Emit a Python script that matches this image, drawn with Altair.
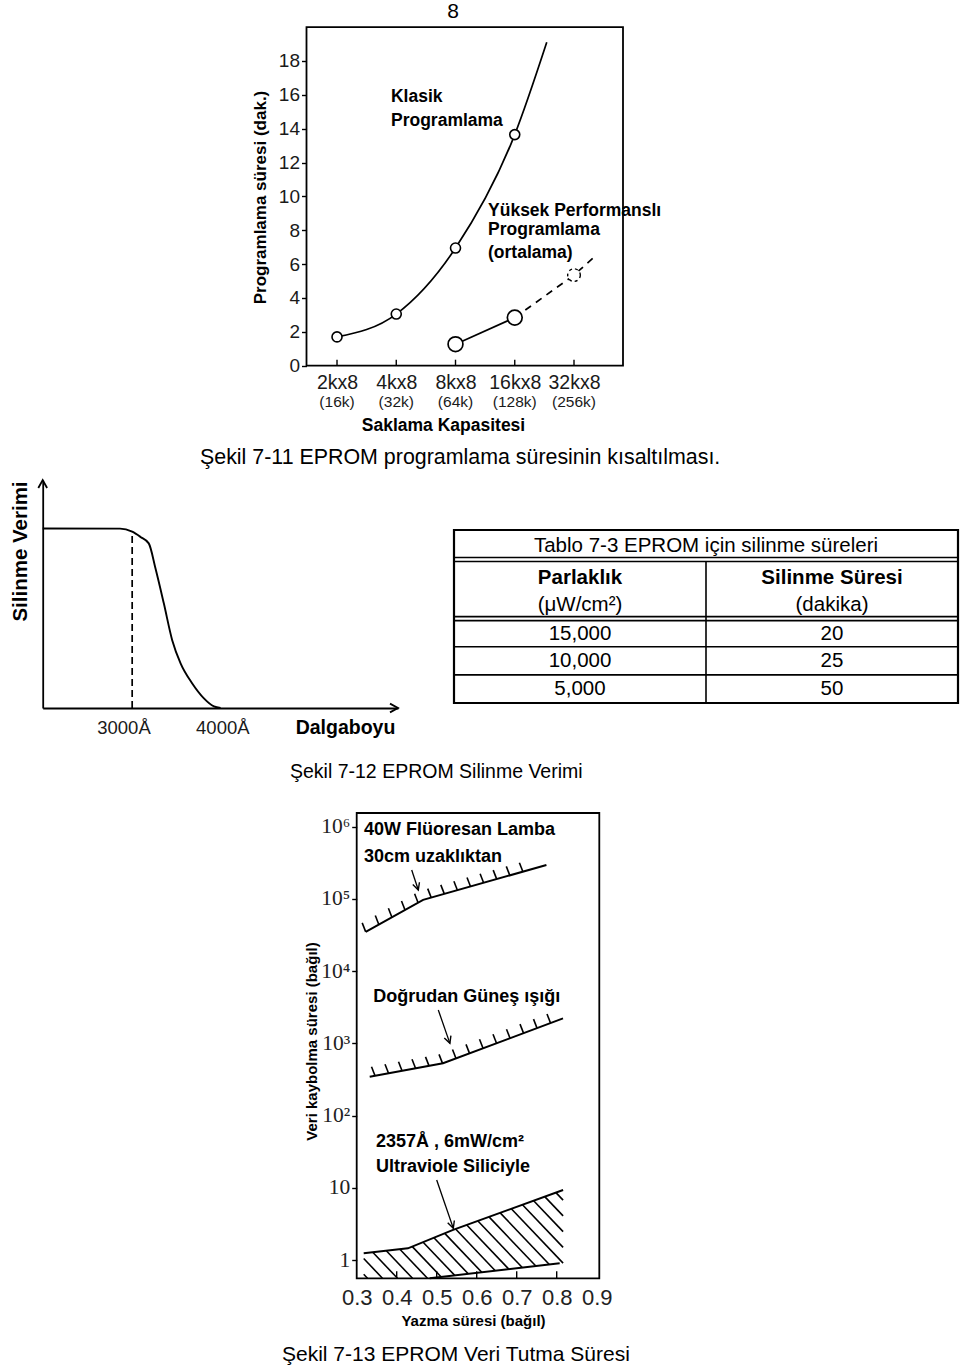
import math
import numpy as np
import pandas as pd
import altair as alt

W, H = 960, 1366
SANS = "Liberation Sans"
SERIF = "Liberation Serif"
INK = "#1a1a1a"

# ================= data : Şekil 7-11 =================
cap_pos = [0, 1, 2, 3, 4]
cap_main = ["2kx8", "4kx8", "8kx8", "16kx8", "32kx8"]
cap_sub = ["(16k)", "(32k)", "(64k)", "(128k)", "(256k)"]
prog_ticks = [0, 2, 4, 6, 8, 10, 12, 14, 16, 18]
klasik_x = [0, 1, 2, 3, 3.54]
klasik_y = [1.7, 3.05, 6.95, 13.65, 19.1]
klasik_marked = 4
yuksek_x = [2, 3]
yuksek_y = [1.27, 2.84]
yuksek_est_x = [3, 4, 4.32]
yuksek_est_y = [2.84, 5.35, 6.36]
f11_text = ["Klasik", "Programlama", "Yüksek Performanslı", "Programlama", "(ortalama)"]
f11_text_x = [0.911, 0.911, 2.549, 2.549, 2.549]
f11_text_y = [15.89, 14.47, 9.14, 8.01, 6.66]

# ================= data : Şekil 7-12 =================
wave = [1965, 2860, 3000, 3096, 3192, 3270, 3366, 3463, 3560, 3695, 3830, 3946, 4023]
eff = [1.0, 0.999, 0.982, 0.953, 0.917, 0.777, 0.583, 0.378, 0.249, 0.137, 0.054, 0.009, 0.0]
wave_ticks = [3000, 4000]
cutoff_wave = 3000
cutoff_eff = 0.982

# ================= data : Tablo 7-3 =================
table_title = "Tablo 7-3 EPROM için silinme süreleri"
head_bold = ["Parlaklık", "Silinme Süresi"]
head_unit = ["(μW/cm²)", "(dakika)"]
brightness = ["15,000", "10,000", "5,000"]
erase_min = ["20", "25", "50"]

# ================= data : Şekil 7-13 =================
write_ticks = [0.3, 0.4, 0.5, 0.6, 0.7, 0.8, 0.9]
inner_ticks = [0.4, 0.5, 0.6, 0.7, 0.8]
ret_ticks = [1, 10, 100, 1000, 10000, 100000, 1000000]
ret_labels = ["1", "10", "10²", "10³", "10⁴", "10⁵", "10⁶"]
fluor_x = [0.3225, 0.466, 0.7743]
fluor_y = [35000, 97000, 295000]
sun_x = [0.3325, 0.5158, 0.8158]
sun_y = [345, 530, 2220]
uv_top_x = [0.3175, 0.428, 0.541, 0.816]
uv_top_y = [1.24, 1.45, 2.61, 9.33]
uv_low_x = [0.4825, 0.8075]
uv_low_y = [0.558, 0.90]
arrow_x0 = [0.4375, 0.504, 0.5]
arrow_y0 = [252000, 2900, 12.8]
arrow_x1 = [0.454, 0.533, 0.5415]
arrow_y1 = [133000, 1000, 2.75]
f13_text = ["40W Flüoresan Lamba", "30cm uzaklıktan", "Doğrudan Güneş ışığı",
            "2357Å , 6mW/cm²", "Ultraviole Siliciyle"]
f13_text_x = [0.3183, 0.3183, 0.3415, 0.348, 0.348]
f13_text_y = [900000, 385000, 4435, 43.5, 19.6]

captions = ["Şekil 7-11 EPROM programlama süresinin kısaltılması.",
            "Şekil 7-12 EPROM Silinme Verimi",
            "Şekil 7-13 EPROM Veri Tutma Süresi"]
page_no = "8"


def qx(scale, field="x", axis=None):
    return alt.X(f"{field}:Q", scale=scale, axis=axis)


def qy(scale, field="y", axis=None):
    return alt.Y(f"{field}:Q", scale=scale, axis=axis)


units = []

# ======================= Figure 7-11 =======================
f11_xdom, f11_xrng = [-0.515, 4.827], [306.5, 623.0]
f11_ydom, f11_yrng = [0, 20], [365.7, 27.1]
X11 = alt.Scale(domain=f11_xdom, range=f11_xrng, nice=False, zero=False)
Y11 = alt.Scale(domain=f11_ydom, range=f11_yrng, nice=False, zero=False)

lab11 = "[" + ",".join(f"'{s}'" for s in cap_main) + "][datum.value]"
ax11x = alt.Axis(orient="bottom", offset=f11_yrng[0] - H, values=cap_pos, labelExpr=lab11,
                 domain=False, ticks=False, grid=False, labelFlush=False,
                 labelOverlap=False, labelFont=SANS, labelFontSize=19.5, labelColor=INK,
                 labelPadding=17, labelBaseline="middle",
                 title="Saklama Kapasitesi", titleFont=SANS, titleFontSize=17.5,
                 titleFontWeight="bold", titleColor="black", titleX=443, titleY=59.3,
                 titleAlign="center", titleBaseline="middle")
ax11y = alt.Axis(orient="left", offset=-f11_xrng[0], values=prog_ticks, domain=False,
                 ticks=True, tickSize=5, tickWidth=1.4, tickColor="black", grid=False,
                 labelFont=SANS, labelFontSize=19, labelColor=INK, labelPadding=2,
                 labelOverlap=False, labelFlush=False,
                 title="Programlama süresi (dak.)", titleFont=SANS, titleFontSize=17,
                 titleFontWeight="bold", titleColor="black", titleX=260 - f11_xrng[0],
                 titleY=197, titleAngle=270, titleAlign="center", titleBaseline="middle")

units.append(alt.Chart(pd.DataFrame({"x": [f11_xdom[0]], "x2": [f11_xdom[1]],
                                     "y": [f11_ydom[0]], "y2": [f11_ydom[1]]})).mark_rect(
    filled=False, color="black", strokeWidth=1.8).encode(
    x=qx(X11, axis=ax11x), x2="x2", y=qy(Y11, axis=ax11y), y2="y2"))

kl_df = pd.DataFrame({"x": klasik_x, "y": klasik_y})
yk_df = pd.DataFrame({"x": yuksek_x, "y": yuksek_y})
ye_df = pd.DataFrame({"x": yuksek_est_x, "y": yuksek_est_y})
units.append(alt.Chart(kl_df).mark_line(color="black", strokeWidth=1.7,
                                        interpolate="monotone").encode(x=qx(X11), y=qy(Y11)))
units.append(alt.Chart(yk_df).mark_line(color="black", strokeWidth=1.7).encode(
    x=qx(X11), y=qy(Y11)))
units.append(alt.Chart(ye_df).mark_line(color="black", strokeWidth=1.7, strokeDash=[7, 6]).encode(
    x=qx(X11), y=qy(Y11)))
units.append(alt.Chart(kl_df.iloc[:klasik_marked]).mark_point(
    shape="circle", filled=True, fill="white", stroke="black", strokeWidth=1.6,
    size=100, opacity=1).encode(x=qx(X11), y=qy(Y11)))
units.append(alt.Chart(yk_df).mark_point(shape="circle", filled=True, fill="white",
                                         stroke="black", strokeWidth=1.7, size=220,
                                         opacity=1).encode(x=qx(X11), y=qy(Y11)))
units.append(alt.Chart(ye_df.iloc[[1]]).mark_point(shape="circle", filled=True, fill="white",
                                                   stroke="black", strokeWidth=1.4,
                                                   strokeDash=[3, 3], size=160,
                                                   opacity=1).encode(x=qx(X11), y=qy(Y11)))
units.append(alt.Chart(pd.DataFrame({"x": cap_pos, "y": [0] * len(cap_pos)})).mark_point(
    shape="M0,0L0,-1", size=144, filled=False, color="black", strokeWidth=1.4,
    opacity=1).encode(x=qx(X11), y=qy(Y11)))
units.append(alt.Chart(pd.DataFrame({"x": cap_pos, "y": [0] * len(cap_pos), "t": cap_sub})).mark_text(
    font=SANS, fontSize=15.5, color=INK, baseline="middle", dy=36).encode(
    x=qx(X11), y=qy(Y11), text="t:N"))
units.append(alt.Chart(pd.DataFrame({"x": f11_text_x, "y": f11_text_y, "t": f11_text})).mark_text(
    font=SANS, fontSize=17.5, fontWeight="bold", color="black", align="left",
    baseline="middle").encode(x=qx(X11), y=qy(Y11), text="t:N"))

# ======================= Figure 7-12 =======================
f12_xdom, f12_xrng = [1965, 6075], [42.7, 398.0]
f12_ydom, f12_yrng = [0, 1.27], [708.0, 480.0]
X12 = alt.Scale(domain=f12_xdom, range=f12_xrng, nice=False, zero=False)
Y12 = alt.Scale(domain=f12_ydom, range=f12_yrng, nice=False, zero=False)

ax12x = alt.Axis(orient="bottom", offset=f12_yrng[0] - H, values=wave_ticks,
                 labelExpr="datum.value + 'Å'", domain=True, domainColor="black",
                 domainWidth=1.8, ticks=False, grid=False, labelFlush=False,
                 labelOverlap=False, labelFont=SANS, labelFontSize=18.5, labelColor=INK,
                 labelBaseline="middle", labelPadding=19,
                 labelOffset={"condition": {"test": "datum.value < 3500", "value": -8.7},
                              "value": 3.7},
                 title="Dalgaboyu", titleFont=SANS, titleFontSize=19.5, titleFontWeight="bold",
                 titleColor="black", titleX=345, titleY=19, titleAlign="center",
                 titleBaseline="middle")
ax12y = alt.Axis(orient="left", offset=-f12_xrng[0], domain=True, domainColor="black",
                 domainWidth=1.8, ticks=False, labels=False, grid=False,
                 title="Silinme Verimi", titleFont=SANS, titleFontSize=20.5,
                 titleFontWeight="bold", titleColor="black", titleX=20 - f12_xrng[0],
                 titleY=551, titleAngle=270, titleAlign="center", titleBaseline="middle")

units.append(alt.Chart(pd.DataFrame({"x": wave, "y": eff})).mark_line(
    color="black", strokeWidth=1.9, interpolate="monotone").encode(
    x=qx(X12, axis=ax12x), y=qy(Y12, axis=ax12y)))
units.append(alt.Chart(pd.DataFrame({"x": [cutoff_wave], "y": [0], "y2": [cutoff_eff]})).mark_rule(
    color="black", strokeWidth=1.7, strokeDash=[7, 4]).encode(x=qx(X12), y=qy(Y12), y2="y2"))
units.append(alt.Chart(pd.DataFrame({"x": [f12_xdom[1], f12_xdom[0]],
                                     "y": [f12_ydom[0], f12_ydom[1]],
                                     "a": [90, 0]})).mark_point(
    shape="M-0.55,1L0,0L0.55,1", size=256, filled=False, color="black", strokeWidth=1.8,
    opacity=1).encode(x=qx(X12), y=qy(Y12), angle=alt.Angle("a:Q", scale=None)))

# ======================= Tablo 7-3 =======================
row_h = [1.05, 2.1, 1.0, 1.0, 1.0]
bnd = [float(v) for v in np.cumsum([0] + row_h)]
TX = alt.Scale(domain=[0, 2], range=[454, 958], nice=False, zero=False)
TY = alt.Scale(domain=[0, bnd[-1]], range=[530, 703], nice=False, zero=False)
g = 2.0 / (173.0 / bnd[-1])
col_c = [0.5, 1.5]

units.append(alt.Chart(pd.DataFrame({"x": [0], "x2": [2], "y": [0], "y2": [bnd[-1]]})).mark_rect(
    filled=False, color="black", strokeWidth=2.2).encode(x=qx(TX), x2="x2", y=qy(TY), y2="y2"))
hy = [bnd[1] - g, bnd[1] + g, bnd[2] - g, bnd[2] + g, bnd[3], bnd[4]]
units.append(alt.Chart(pd.DataFrame({"x": [0] * len(hy), "x2": [2] * len(hy), "y": hy})).mark_rule(
    color="black", strokeWidth=1.6).encode(x=qx(TX), x2="x2", y=qy(TY)))
units.append(alt.Chart(pd.DataFrame({"x": [1], "y": [bnd[1] + g], "y2": [bnd[-1]]})).mark_rule(
    color="black", strokeWidth=1.6).encode(x=qx(TX), y=qy(TY), y2="y2"))
units.append(alt.Chart(pd.DataFrame({"x": [1], "y": [row_h[0] / 2], "t": [table_title]})).mark_text(
    font=SANS, fontSize=20.5, color="black", baseline="middle", dy=1).encode(
    x=qx(TX), y=qy(TY), text="t:N"))
units.append(alt.Chart(pd.DataFrame({"x": col_c, "y": [bnd[1] + 0.32 * row_h[1]] * 2,
                                     "t": head_bold})).mark_text(
    font=SANS, fontSize=20.5, fontWeight="bold", color="black", baseline="middle").encode(
    x=qx(TX), y=qy(TY), text="t:N"))
units.append(alt.Chart(pd.DataFrame({"x": col_c, "y": [bnd[1] + 0.77 * row_h[1]] * 2,
                                     "t": head_unit})).mark_text(
    font=SANS, fontSize=20.5, color="black", baseline="middle").encode(
    x=qx(TX), y=qy(TY), text="t:N"))
cells = []
for i in range(3):
    ymid = (bnd[2 + i] + bnd[3 + i]) / 2 + (g / 2 if i == 0 else 0)
    cells.append({"x": col_c[0], "y": ymid, "t": brightness[i]})
    cells.append({"x": col_c[1], "y": ymid, "t": erase_min[i]})
units.append(alt.Chart(pd.DataFrame(cells)).mark_text(
    font=SANS, fontSize=20.5, color="black", baseline="middle").encode(
    x=qx(TX), y=qy(TY), text="t:N"))

# ======================= Figure 7-13 =======================
f13_xdom, f13_xrng = [0.3, 0.9065], [356.7, 599.3]
f13_ydom, f13_yrng = [0.558, 1.55e6], [1278.3, 813.0]
X13 = alt.Scale(domain=f13_xdom, range=f13_xrng, nice=False, zero=False)
Y13 = alt.Scale(type="log", domain=f13_ydom, range=f13_yrng, nice=False)

PXX = (f13_xrng[1] - f13_xrng[0]) / (f13_xdom[1] - f13_xdom[0])
PXY = (f13_yrng[0] - f13_yrng[1]) / (math.log10(f13_ydom[1]) - math.log10(f13_ydom[0]))


def to_px(x, y):
    return (np.asarray(x, float) - f13_xdom[0]) * PXX, np.log10(np.asarray(y, float)) * PXY


def from_px(X, V):
    return np.asarray(X) / PXX + f13_xdom[0], 10 ** (np.asarray(V) / PXY)


def band_ticks(xs, ys, first, last, step_px, lean=3.5, rise=9.0):
    X, V = to_px(xs, ys)
    a = (first - f13_xdom[0]) * PXX
    b = (last - f13_xdom[0]) * PXX
    pos = np.arange(a, b + 0.1, step_px)
    v = np.interp(pos, X, V)
    xa, ya = from_px(pos, v)
    xb, yb = from_px(pos - lean, v + rise)
    return pd.DataFrame({"x": xa, "y": ya, "x2": xb, "y2": yb})


def hatch(tx, ty, lx, ly, step_px=15.0, k=1.05):
    Xt, Vt = to_px(tx, ty)
    Xl, Vl = to_px(lx, ly)
    vfloor = math.log10(f13_ydom[0]) * PXY
    Xs = np.linspace(Xt[0], Xt[-1], 3000)
    top = np.interp(Xs, Xt, Vt)
    low = np.maximum(np.interp(Xs, Xl, Vl), vfloor)
    c_lo = (low + k * Xs).min()
    c_hi = (top + k * Xs).max()
    rows = []
    for c in np.arange(c_lo + 4, c_hi, step_px * k):
        hv = c - k * Xs
        m = (hv <= top) & (hv >= low)
        if m.sum() < 3:
            continue
        i0 = int(np.argmax(m))
        i1 = len(m) - 1 - int(np.argmax(m[::-1]))
        x0, y0 = from_px(Xs[i0], hv[i0])
        x1, y1 = from_px(Xs[i1], hv[i1])
        rows.append({"x": float(x0), "y": float(y0), "x2": float(x1), "y2": float(y1)})
    return pd.DataFrame(rows)


lab13 = "[" + ",".join(f"'{s}'" for s in ret_labels) + "][round(log(datum.value)/LN10)]"
ax13y = alt.Axis(orient="left", offset=-f13_xrng[0], values=ret_ticks, labelExpr=lab13,
                 domain=False, ticks=True, tickSize=5, tickWidth=1.4, tickColor="black",
                 grid=False, labelFont=SERIF, labelFontSize=21.5, labelColor="#222222",
                 labelPadding=2, labelOverlap=False, labelFlush=False,
                 title="Veri kaybolma süresi (bağıl)", titleFont=SANS, titleFontSize=15,
                 titleFontWeight="bold", titleColor="black", titleX=311 - f13_xrng[0],
                 titleY=1041, titleAngle=270, titleAlign="center", titleBaseline="middle")
ax13x = alt.Axis(orient="bottom", offset=f13_yrng[0] - H, values=write_ticks, format=".1f",
                 domain=False, ticks=False, grid=False, labelFlush=False,
                 labelOverlap=False, labelFont=SANS, labelFontSize=22, labelColor="#222222",
                 labelBaseline="middle", labelPadding=18.7,
                 title="Yazma süresi (bağıl)", titleFont=SANS, titleFontSize=15,
                 titleFontWeight="bold", titleColor="black", titleX=473, titleY=41.7,
                 titleAlign="center", titleBaseline="middle")

units.append(alt.Chart(pd.DataFrame({"x": [f13_xdom[0]], "x2": [f13_xdom[1]],
                                     "y": [f13_ydom[0]], "y2": [f13_ydom[1]]})).mark_rect(
    filled=False, color="black", strokeWidth=1.8).encode(
    x=qx(X13, axis=ax13x), x2="x2", y=qy(Y13, axis=ax13y), y2="y2"))
units.append(alt.Chart(pd.DataFrame({"x": inner_ticks,
                                     "y": [f13_ydom[0]] * len(inner_ticks)})).mark_point(
    shape="M0,0L0,-1", size=196, filled=False, color="black", strokeWidth=1.4,
    opacity=1).encode(x=qx(X13), y=qy(Y13)))


def band_line(xs, ys):
    return alt.Chart(pd.DataFrame({"x": xs, "y": ys})).mark_line(
        color="black", strokeWidth=2.0).encode(x=qx(X13), y=qy(Y13))


def seg_layer(df, width):
    return alt.Chart(df).mark_rule(color="black", strokeWidth=width).encode(
        x=qx(X13), y=qy(Y13), x2="x2", y2="y2")


units.append(seg_layer(hatch(uv_top_x, uv_top_y, uv_low_x, uv_low_y), 1.6))
units.append(seg_layer(band_ticks(fluor_x, fluor_y, 0.3225, 0.7443, 13.1), 1.6))
units.append(seg_layer(band_ticks(sun_x, sun_y, 0.3458, 0.791, 13.5), 1.6))
units.append(band_line(fluor_x, fluor_y))
units.append(band_line(sun_x, sun_y))
units.append(band_line(uv_top_x, uv_top_y))
units.append(band_line(uv_low_x, uv_low_y))

arr_df = pd.DataFrame({"x": arrow_x0, "y": arrow_y0, "x2": arrow_x1, "y2": arrow_y1})
units.append(seg_layer(arr_df, 1.3))
ang = []
for a0, b0, a1, b1 in zip(arrow_x0, arrow_y0, arrow_x1, arrow_y1):
    dx = (a1 - a0) * PXX
    dy = -(math.log10(b1) - math.log10(b0)) * PXY
    ang.append(math.degrees(math.atan2(dx, -dy)) % 360)
units.append(alt.Chart(pd.DataFrame({"x": arrow_x1, "y": arrow_y1, "a": ang})).mark_point(
    shape="M-0.5,1L0,0L0.5,1", size=196, filled=False, color="black", strokeWidth=1.4,
    opacity=1).encode(x=qx(X13), y=qy(Y13), angle=alt.Angle("a:Q", scale=None)))
units.append(alt.Chart(pd.DataFrame({"x": f13_text_x, "y": f13_text_y, "t": f13_text})).mark_text(
    font=SANS, fontSize=18, fontWeight="bold", color="black", align="left",
    baseline="middle").encode(x=qx(X13), y=qy(Y13), text="t:N"))


# ======================= page text =======================
def free_text(txt, x, y, size, align="left"):
    return alt.Chart(pd.DataFrame({"t": [txt]})).mark_text(
        align=align, baseline="middle", font=SANS, fontSize=size, color="black").encode(
        text="t:N", x=alt.value(x), y=alt.value(y))


units.append(free_text(page_no, 453, 12, 21, "center"))
units.append(free_text(captions[0], 200, 458, 21.4))
units.append(free_text(captions[1], 290, 772, 19.5))
units.append(free_text(captions[2], 282, 1355, 21))

chart = alt.layer(*units).resolve_scale(
    x="independent", y="independent"
).properties(
    width=W, height=H, padding=0, background="white",
    autosize=alt.AutoSizeParams(type="none"),
).configure_view(stroke=None)

chart.save("out.html", embed_options={"renderer": "svg", "actions": False})
